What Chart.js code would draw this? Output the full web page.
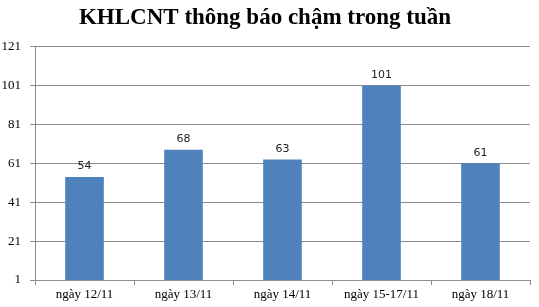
<!DOCTYPE html>
<html>
<head>
<meta charset="utf-8">
<script src="https://cdn.jsdelivr.net/npm/chart.js@4.4.0/dist/chart.umd.min.js"></script>
<style>
  html, body { margin: 0; padding: 0; background: #fff; }
  #wrap { width: 539px; height: 307px; position: relative; }
</style>
</head>
<body>
<div id="wrap"><canvas id="barChart"></canvas></div>
<script>
var labels = ['ngày 12/11', 'ngày 13/11', 'ngày 14/11', 'ngày 15-17/11', 'ngày 18/11'];
var values = [54, 68, 63, 101, 61];
var yMin = 1, yMax = 121, yStep = 20;

// so tren dinh cot
var valueLabels = {
    id: 'valueLabels',
    afterDatasetsDraw: function (chart) {
        var ctx = chart.ctx;
        var meta = chart.getDatasetMeta(0);
        ctx.save();
        ctx.font = '11px "DejaVu Sans"';
        ctx.fillStyle = '#222';
        ctx.textAlign = 'center';
        ctx.textBaseline = 'bottom';
        meta.data.forEach(function (bar, i) {
            ctx.fillText(values[i], bar.x, bar.y - 5);
        });
        ctx.restore();
    }
};

var gridColor = '#8c8c8c';
new Chart(document.getElementById('barChart').getContext('2d'), {
    type: 'bar',
    data: {
        labels: labels,
        datasets: [{
            data: values,
            backgroundColor: '#4f81bd',
            borderWidth: 0,
            categoryPercentage: 1,
            barPercentage: 0.39
        }]
    },
    options: {
        responsive: true,
        maintainAspectRatio: false,
        animation: false,
        layout: { padding: { top: 4, right: 9, left: 0, bottom: 0 } },
        plugins: {
            legend: { display: false },
            tooltip: { enabled: false },
            title: {
                display: true,
                text: 'KHLCNT thông báo chậm trong tuần',
                color: '#000',
                font: { family: '"Liberation Serif"', size: 23, weight: 'bold', lineHeight: 1.2 },
                padding: { top: 0, bottom: 15 }
            }
        },
        scales: {
            y: {
                min: yMin,
                max: yMax,
                ticks: {
                    stepSize: yStep,
                    color: '#000',
                    padding: 9,
                    font: { family: '"Liberation Serif"', size: 13 }
                },
                grid: { color: gridColor, tickLength: 5, tickColor: gridColor },
                border: { color: gridColor },
                afterFit: function (scale) { scale.width = 35; }
            },
            x: {
                offset: true,
                ticks: {
                    color: '#000',
                    padding: 2,
                    font: { family: '"Liberation Serif"', size: 13 }
                },
                grid: { offset: true, drawOnChartArea: false, tickLength: 5, tickColor: gridColor },
                border: { color: gridColor },
                afterFit: function (scale) { scale.height = 27; }
            }
        }
    },
    plugins: [valueLabels]
});
</script>
</body>
</html>
